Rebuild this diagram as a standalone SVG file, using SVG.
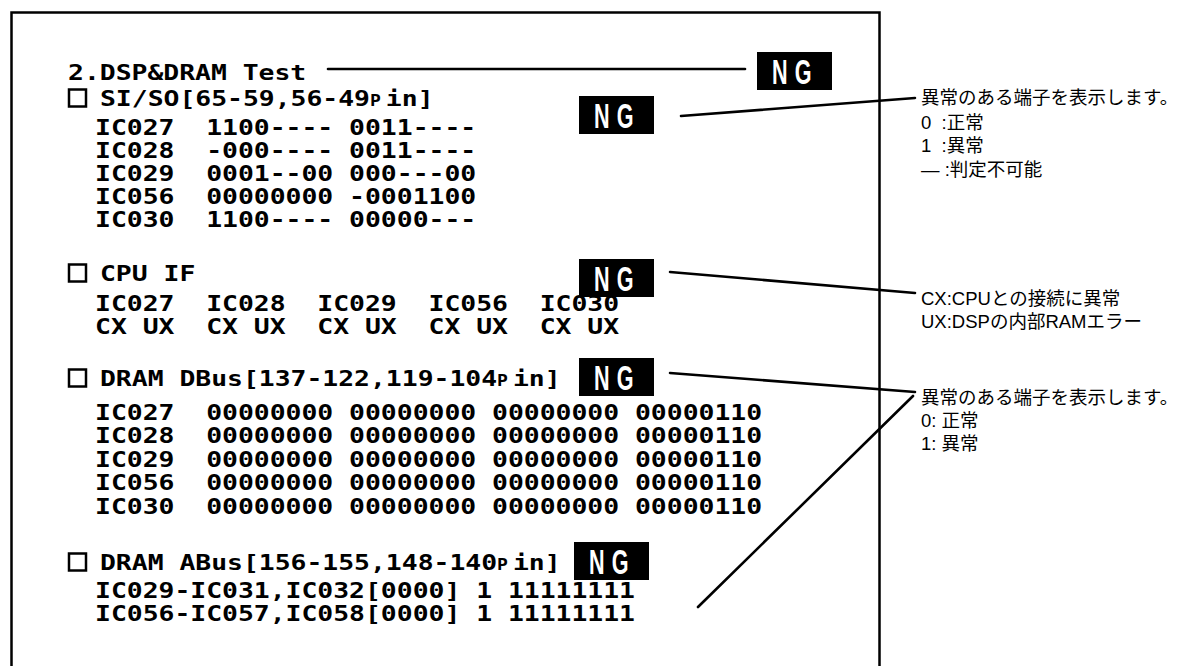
<svg xmlns="http://www.w3.org/2000/svg" width="1183" height="666" viewBox="0 0 1183 666">
  <style>
    /* monospaced screen text, widened to a 15.9px cell */
    .mono { font-family: "DejaVu Sans Mono", "Liberation Mono", monospace; font-size: 22px; font-weight: bold; fill: #000; transform: scale(1.2, 1); }
    .sp { font-size: 15px; letter-spacing: 4.22px; }
    .note { font-family: "Liberation Sans", "Noto Sans CJK JP", sans-serif; font-size: 18.5px; fill: #000; }
    .bullet { fill: none; stroke: #000; stroke-width: 2.5; }
    .lead { stroke: #000; stroke-width: 2.6; fill: none; stroke-linecap: round; }
    .ngtxt { font-family: "Liberation Sans", "DejaVu Sans", sans-serif; font-weight: bold; font-size: 36px; fill: #fff; letter-spacing: 12px; }
  </style>
  <defs>
    <!-- black NG badge, 75 x 38 -->
    <g id="ng">
      <rect x="0" y="0" width="75" height="38" fill="#000"/>
      <text class="ngtxt" transform="translate(15,32) scale(0.6,1)">NG</text>
    </g>
  </defs>

  <rect id="frame" x="11.5" y="12.5" width="868" height="700" fill="#fff" stroke="#000" stroke-width="2.5"/>

  <g id="title">
    <text class="mono" x="56.67" y="80">2.DSP&amp;DRAM Test</text>
    <use href="#ng" x="757" y="52"/>
  </g>

  <g id="sect-siso">
    <rect class="bullet" x="69" y="89.5" width="17" height="17"/>
    <text class="mono" x="83.33" y="106">SI/SO[65-59,56-49<tspan class="sp">P</tspan>in]</text>
    <use href="#ng" x="579" y="96"/>
    <text class="mono" xml:space="preserve"><tspan x="79.17" y="135">IC027  1100---- 0011----</tspan><tspan x="79.17" y="158">IC028  -000---- 0011----</tspan><tspan x="79.17" y="181">IC029  0001--00 000---00</tspan><tspan x="79.17" y="204">IC056  00000000 -0001100</tspan><tspan x="79.17" y="227">IC030  1100---- 00000---</tspan></text>
  </g>

  <g id="sect-cpuif">
    <rect class="bullet" x="69" y="264.5" width="17" height="17"/>
    <text class="mono" x="83.33" y="281">CPU IF</text>
    <use href="#ng" x="579" y="259"/>
    <text class="mono" xml:space="preserve"><tspan x="79.17" y="311">IC027  IC028  IC029  IC056  IC030</tspan><tspan x="79.17" y="334">CX UX  CX UX  CX UX  CX UX  CX UX</tspan></text>
  </g>

  <g id="sect-dbus">
    <rect class="bullet" x="69" y="369.5" width="17" height="17"/>
    <text class="mono" x="83.33" y="386">DRAM DBus[137-122,119-104<tspan class="sp">P</tspan>in]</text>
    <use href="#ng" x="579" y="358"/>
    <text class="mono" xml:space="preserve"><tspan x="79.17" y="420">IC027  00000000 00000000 00000000 00000110</tspan><tspan x="79.17" y="443.5">IC028  00000000 00000000 00000000 00000110</tspan><tspan x="79.17" y="467">IC029  00000000 00000000 00000000 00000110</tspan><tspan x="79.17" y="490.5">IC056  00000000 00000000 00000000 00000110</tspan><tspan x="79.17" y="514">IC030  00000000 00000000 00000000 00000110</tspan></text>
  </g>

  <g id="sect-abus">
    <rect class="bullet" x="69" y="553.5" width="17" height="17"/>
    <text class="mono" x="83.33" y="570">DRAM ABus[156-155,148-140<tspan class="sp">P</tspan>in]</text>
    <use href="#ng" x="574" y="542"/>
    <text class="mono" xml:space="preserve"><tspan x="79.17" y="598">IC029-IC031,IC032[0000] 1 11111111</tspan><tspan x="79.17" y="621">IC056-IC057,IC058[0000] 1 11111111</tspan></text>
  </g>

  <g id="connectors">
    <line class="lead" x1="328" y1="69" x2="745" y2="69"/>
    <line class="lead" x1="681" y1="116" x2="915" y2="98"/>
    <line class="lead" x1="670" y1="272" x2="915" y2="293"/>
    <line class="lead" x1="670" y1="373" x2="915" y2="392"/>
    <line class="lead" x1="913" y1="396" x2="698" y2="607"/>
  </g>

  <g id="note-pins">
    <text class="note" x="921" y="104">異常のある端子を表示します。</text>
    <text class="note" x="921" y="129" xml:space="preserve">0  :正常</text>
    <text class="note" x="921" y="152" xml:space="preserve">1  :異常</text>
    <text class="note" x="921" y="176">— :判定不可能</text>
  </g>

  <g id="note-cpu">
    <text class="note" x="921" y="305">CX:CPUとの接続に異常</text>
    <text class="note" x="921" y="328">UX:DSPの内部RAMエラー</text>
  </g>

  <g id="note-dram">
    <text class="note" x="921" y="404">異常のある端子を表示します。</text>
    <text class="note" x="921" y="427">0: 正常</text>
    <text class="note" x="921" y="450">1: 異常</text>
  </g>
</svg>
